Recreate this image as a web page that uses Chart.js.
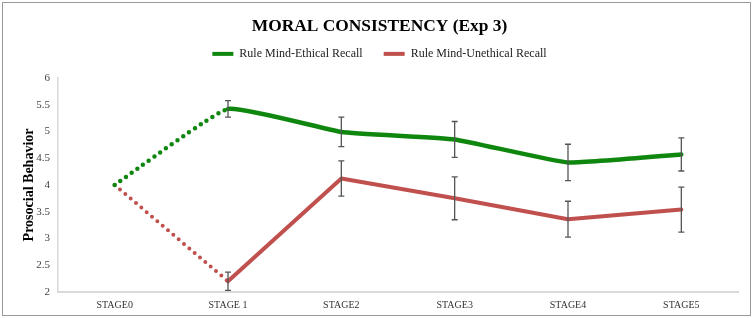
<!DOCTYPE html>
<html>
<head>
<meta charset="utf-8">
<script src="https://cdn.jsdelivr.net/npm/chart.js@4.4.1/dist/chart.umd.min.js"></script>
<style>
  html, body { margin: 0; padding: 0; background: #fff; }
  #wrap { position: relative; width: 756px; height: 318px; }
  #frame { position: absolute; left: 2px; top: 2px; width: 749px; height: 314px; border: 1.5px solid #999; box-sizing: border-box; pointer-events: none; }
  canvas { position: absolute; left: 0; top: 0; }
</style>
</head>
<body>
<div id="wrap">
  <canvas id="c" width="756" height="318"></canvas>
  <div id="frame"></div>
</div>
<script>
const categories = ['STAGE0', 'STAGE 1', 'STAGE2', 'STAGE3', 'STAGE4', 'STAGE5'];
const ethicalLabel = 'Rule Mind-Ethical Recall';
const unethicalLabel = 'Rule Mind-Unethical Recall';
const ethical = [4, 5.42, 4.99, 4.85, 4.42, 4.57];
const ethicalErr = [0, 0.155, 0.275, 0.335, 0.34, 0.31];
const unethical = [4, 2.20, 4.12, 3.75, 3.36, 3.54];
const unethicalErr = [0, 0.17, 0.33, 0.40, 0.335, 0.42];
const yTicks = [2, 2.5, 3, 3.5, 4, 4.5, 5, 5.5, 6];

const GREEN = '#0f870f';
const RED = '#c0504d';
const SERIF = '"Liberation Serif", "Times New Roman", serif';

const errorBars = {
  id: 'errorBars',
  afterDatasetsDraw(chart) {
    const ctx = chart.ctx;
    const xs = chart.scales.x, ys = chart.scales.y;
    const errs = [ethicalErr, unethicalErr];
    ctx.save();
    ctx.strokeStyle = '#555';
    ctx.lineWidth = 1.3;
    chart.data.datasets.forEach((ds, di) => {
      ds.data.forEach((v, i) => {
        const e = errs[di][i];
        if (!e) return;
        const x = xs.getPixelForValue(i);
        const yt = ys.getPixelForValue(v + e);
        const yb = ys.getPixelForValue(v - e);
        ctx.beginPath();
        ctx.moveTo(x, yt); ctx.lineTo(x, yb);
        ctx.moveTo(x - 3, yt); ctx.lineTo(x + 3, yt);
        ctx.moveTo(x - 3, yb); ctx.lineTo(x + 3, yb);
        ctx.stroke();
      });
    });
    ctx.restore();
  }
};

// extra space below the legend
const legendGap = {
  id: 'legendGap',
  beforeLayout(chart) {
    const lg = chart.legend;
    if (lg && !lg._gapPatched) {
      const orig = lg.fit.bind(lg);
      lg.fit = function () { orig(); this.height += 8; };
      lg._gapPatched = true;
    }
  }
};

const dotted = ctx => ctx.p0DataIndex === 0 ? [0, 7] : undefined;

new Chart(document.getElementById('c'), {
  type: 'line',
  data: {
    labels: categories,
    datasets: [
      {
        label: ethicalLabel,
        data: ethical,
        borderColor: GREEN,
        backgroundColor: GREEN,
        borderWidth: 4.5,
        borderCapStyle: 'round',
        borderJoinStyle: 'round',
        pointRadius: 0,
        tension: 0.12,
        segment: { borderDash: dotted }
      },
      {
        label: unethicalLabel,
        data: unethical,
        borderColor: RED,
        backgroundColor: RED,
        borderWidth: 4,
        borderCapStyle: 'round',
        borderJoinStyle: 'round',
        pointRadius: 0,
        tension: 0,
        segment: { borderDash: dotted }
      }
    ]
  },
  options: {
    responsive: false,
    animation: false,
    layout: { padding: { left: 21, right: 18, top: 0, bottom: 0 } },
    plugins: {
      tooltip: { enabled: false },
      title: {
        display: true,
        text: 'MORAL CONSISTENCY (Exp 3)',
        color: '#000',
        font: { family: SERIF, size: 17.4, weight: 'bold', lineHeight: 1.2 },
        padding: { top: 16, bottom: -10 }
      },
      legend: {
        display: true,
        labels: {
          color: '#222',
          font: { family: SERIF, size: 12 },
          boxWidth: 21,
          boxHeight: 4,
          padding: 21,
          generateLabels(chart) {
            return chart.data.datasets.map((ds, i) => ({
              text: ds.label,
              fillStyle: ds.borderColor,
              strokeStyle: ds.borderColor,
              lineWidth: 0,
              hidden: false,
              datasetIndex: i,
              fontColor: '#222'
            }));
          }
        }
      }
    },
    scales: {
      x: {
        offset: true,
        grid: { display: false, drawTicks: false },
        border: { display: true, color: '#d9d9d9', width: 2 },
        ticks: { color: '#333', font: { family: SERIF, size: 10 }, padding: 7, maxRotation: 0 },
        afterFit(scale) { scale.height = 26; }
      },
      y: {
        min: 2,
        max: 6,
        grid: { display: false, drawTicks: false },
        border: { display: true, color: '#d9d9d9', width: 1.5 },
        afterBuildTicks(scale) { scale.ticks = yTicks.map(v => ({ value: v })); },
        ticks: { color: '#444', font: { family: SERIF, size: 11 }, padding: 8, callback: v => String(v) },
        title: {
          display: true,
          text: 'Prosocial Behavior',
          color: '#000',
          font: { family: SERIF, size: 14, weight: 'bold' },
          padding: { top: 0, bottom: 4 }
        },
        afterFit(scale) { scale.width = 37; }
      }
    }
  },
  plugins: [errorBars, legendGap]
});
</script>
</body>
</html>
